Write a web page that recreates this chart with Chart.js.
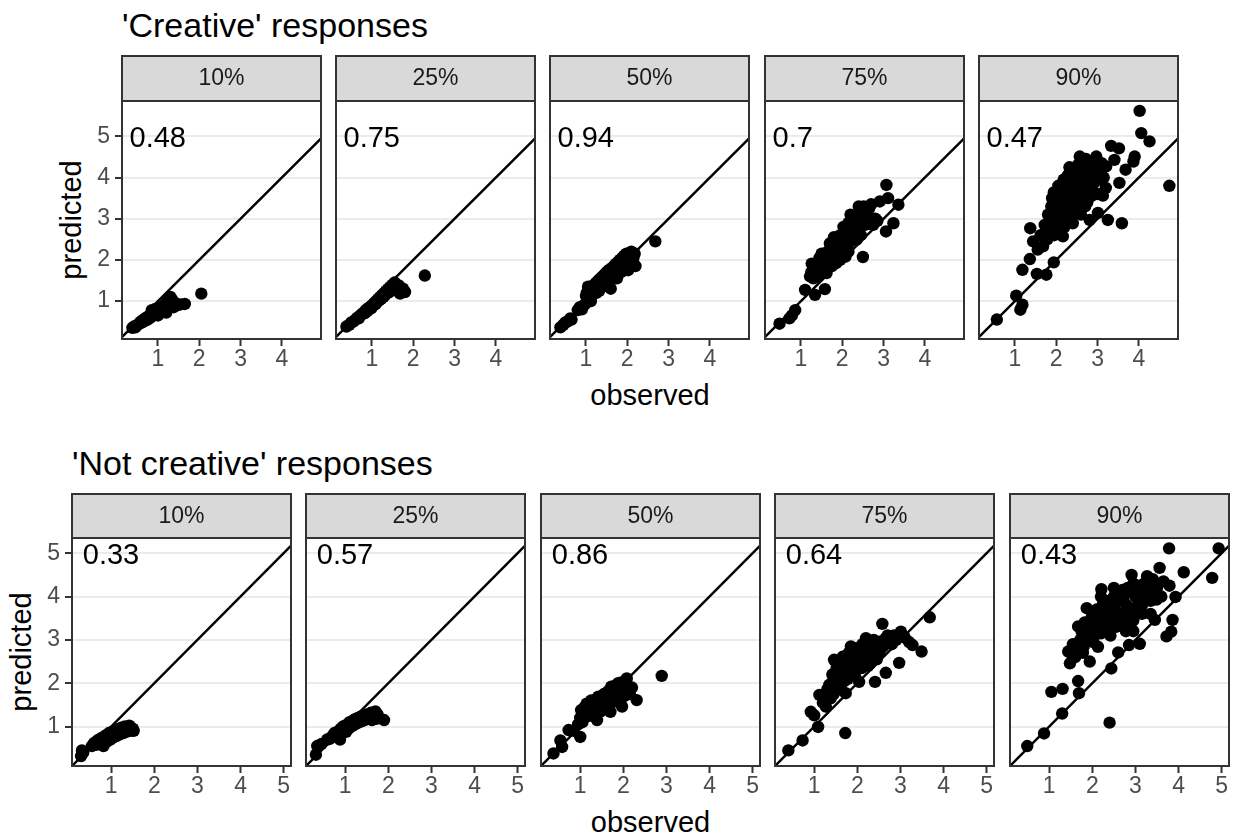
<!DOCTYPE html>
<html>
<head>
<meta charset="utf-8">
<script src="https://cdn.jsdelivr.net/npm/chart.js@4.4.0/dist/chart.umd.min.js"></script>
<style>
  html, body { margin: 0; padding: 0; background: #fff; }
  body { width: 1233px; height: 836px; position: relative; overflow: hidden;
         font-family: 'Liberation Sans', Arial, Helvetica, sans-serif; }
  canvas { position: absolute; }
  .txt { position: absolute; white-space: nowrap; color: #000; line-height: 1; }
</style>
</head>
<body>
<script>
// facet labels and correlation per facet
const quantiles = ['10%', '25%', '50%', '75%', '90%'];
const creativeR = [0.48, 0.75, 0.94, 0.7, 0.47];
const notCreativeR = [0.33, 0.57, 0.86, 0.64, 0.43];

// tick labels
const yTicks = [1, 2, 3, 4, 5];
const xTicksCreative = [1, 2, 3, 4];
const xTicksNotCreative = [1, 2, 3, 4, 5];

// reference line y = x
const identityLine = [0, 6];

// [observed, predicted] - 'Creative' responses
const creative10 = [[0.38,0.35],[0.42,0.38],[0.45,0.36],[0.5,0.42],[0.55,0.45],[0.58,0.5],[0.62,0.48],[0.65,0.55],[0.68,0.52],[0.7,0.58],
  [0.72,0.6],[0.75,0.55],[0.78,0.62],[0.8,0.66],[0.82,0.6],[0.85,0.7],[0.88,0.65],[0.9,0.72],[0.92,0.68],[0.95,0.75],
  [0.97,0.7],[1.0,0.78],[1.02,0.72],[1.05,0.82],[1.08,0.75],[1.1,0.85],[1.12,0.8],[1.15,0.9],[1.18,0.78],[1.2,0.95],
  [1.22,0.88],[1.25,1.05],[1.28,0.92],[1.3,1.1],[1.32,0.98],[1.35,1.02],[1.38,0.85],[1.42,0.95],[1.48,0.9],[1.55,0.92],
  [1.65,0.93],[1.0,0.65],[0.92,0.8],[0.85,0.78],[1.2,0.72],[2.05,1.18]];
const creative25 = [[0.38,0.38],[0.45,0.42],[0.5,0.48],[0.55,0.5],[0.6,0.55],[0.65,0.6],[0.68,0.58],[0.72,0.65],[0.75,0.68],[0.8,0.72],
  [0.82,0.7],[0.85,0.78],[0.88,0.75],[0.9,0.82],[0.95,0.85],[0.98,0.82],[1.0,0.9],[1.02,0.88],[1.05,0.95],[1.08,0.92],
  [1.1,1.0],[1.12,0.97],[1.15,1.05],[1.18,1.02],[1.2,1.1],[1.22,1.05],[1.25,1.15],[1.28,1.1],[1.3,1.2],[1.32,1.15],
  [1.35,1.25],[1.38,1.2],[1.4,1.3],[1.42,1.22],[1.45,1.35],[1.48,1.28],[1.5,1.4],[1.55,1.45],[1.58,1.35],[1.6,1.3],
  [1.65,1.38],[1.7,1.25],[1.75,1.3],[1.8,1.22],[1.68,1.18],[2.28,1.62]];
const creative50 = [[0.38,0.36],[0.45,0.42],[0.5,0.48],[0.55,0.5],[0.62,0.58],[0.65,0.55],[0.8,0.78],[0.85,0.85],[0.9,0.8],[0.95,0.9],
  [1.0,0.95],[1.0,1.12],[1.02,1.2],[1.05,1.05],[1.08,1.28],[1.1,1.15],[1.12,1.0],[1.15,1.35],[1.18,1.22],[1.2,1.4],
  [1.22,1.3],[1.25,1.45],[1.28,1.35],[1.3,1.5],[1.32,1.25],[1.35,1.55],[1.38,1.45],[1.4,1.6],[1.42,1.4],[1.45,1.65],
  [1.48,1.55],[1.5,1.7],[1.52,1.48],[1.55,1.75],[1.58,1.6],[1.6,1.3],[1.62,1.8],[1.65,1.7],[1.68,1.85],[1.7,1.65],
  [1.72,1.9],[1.75,1.55],[1.78,1.95],[1.8,1.8],[1.82,2.0],[1.85,1.7],[1.88,2.05],[1.9,1.9],[1.92,2.1],[1.95,1.85],
  [1.98,2.15],[2.0,2.0],[2.02,1.75],[2.05,2.15],[2.08,1.95],[2.1,2.2],[2.12,2.05],[2.15,1.9],[2.18,2.15],[2.2,1.85],
  [1.05,1.35],[1.15,1.2],[1.25,1.3],[1.35,1.4],[1.45,1.45],[1.55,1.55],[1.65,1.55],[1.75,1.75],[1.85,1.85],[1.95,1.95],
  [2.05,1.85],[2.15,2.05],[1.25,1.2],[1.4,1.35],[2.68,2.45]];
const creative75 = [[0.48,0.45],[0.72,0.58],[0.78,0.65],[0.86,0.78],[1.1,1.27],[1.34,1.15],[1.58,1.29],[1.22,1.6],[1.26,1.91],[1.3,1.75],
  [1.35,1.65],[1.4,1.85],[1.45,2.05],[1.48,1.7],[1.5,1.95],[1.55,1.8],[1.58,2.1],[1.62,1.68],[1.62,2.0],[1.65,2.2],
  [1.7,1.9],[1.72,2.3],[1.75,2.05],[1.78,2.45],[1.8,2.15],[1.85,1.92],[1.85,2.35],[1.9,2.5],[1.92,2.2],[1.95,2.6],
  [2.0,2.35],[2.03,2.8],[2.05,2.5],[2.08,2.08],[2.1,2.7],[2.12,2.3],[2.15,2.9],[2.18,2.55],[2.2,2.75],[2.25,3.0],
  [2.27,2.65],[2.3,2.85],[2.35,2.49],[2.38,3.1],[2.42,2.95],[2.45,3.2],[2.5,2.07],[2.52,3.3],[2.55,3.05],[2.6,3.15],
  [2.65,3.25],[2.71,2.97],[2.8,3.0],[2.91,3.42],[3.06,2.69],[3.07,3.82],[3.11,3.5],[3.24,2.89],[3.36,3.34],
  [1.25,1.7],[1.3,1.55],[1.4,1.6],[1.45,1.8],[1.5,2.15],[1.55,1.95],[1.6,1.75],[1.65,2.05],[1.7,2.4],[1.75,1.85],
  [1.8,2.55],[1.85,2.1],[1.9,2.3],[1.95,2.0],[2.0,2.6],[2.05,2.25],[2.1,2.5],[2.15,2.2],[2.2,2.45],[2.25,2.8],
  [2.3,2.6],[2.35,2.95],[2.4,2.75],[2.45,2.6],[2.5,3.05],[2.55,2.85],[2.6,2.9],[2.4,3.3],[2.2,3.1],[2.7,3.35],
  [2.75,2.85],[2.85,2.95]];
const creative90 = [[0.56,0.55],[1.03,1.13],[1.13,0.79],[1.18,0.91],[1.18,1.76],[1.36,2.02],[1.53,1.66],[1.76,1.64],[1.94,1.94],[1.37,2.77],
  [1.44,2.45],[1.55,2.25],[1.62,2.6],[1.68,2.33],[1.72,2.85],[1.78,2.5],[1.8,3.1],[1.85,2.7],[1.88,3.3],[1.92,2.73],
  [1.94,3.64],[1.96,3.0],[2.0,3.3],[2.02,2.85],[2.05,3.5],[2.08,3.15],[2.1,3.75],[2.12,2.95],[2.15,3.4],[2.16,2.57],
  [2.2,3.6],[2.22,3.9],[2.25,3.2],[2.28,4.05],[2.3,3.5],[2.32,3.7],[2.35,3.0],[2.38,3.85],[2.4,4.19],[2.4,2.89],
  [2.42,3.35],[2.45,4.0],[2.48,3.6],[2.5,3.2],[2.52,4.3],[2.55,3.8],[2.57,4.51],[2.6,3.45],[2.62,4.1],[2.65,3.7],
  [2.68,4.35],[2.7,3.3],[2.73,3.54],[2.75,4.0],[2.78,4.2],[2.81,2.97],[2.85,3.75],[2.89,3.94],[2.92,4.4],[2.97,4.51],
  [3.01,3.14],[3.05,4.1],[3.13,3.56],[3.21,4.27],[3.25,2.97],[3.33,4.77],[3.41,4.43],[3.52,4.71],[3.53,3.87],[3.59,2.89],
  [3.68,4.19],[3.87,4.39],[3.9,4.51],[4.02,5.62],[4.06,5.08],[4.26,4.88],[4.74,3.8],
  [1.85,2.9],[1.9,3.5],[1.95,2.6],[2.0,3.05],[2.05,3.8],[2.1,2.7],[2.15,3.15],[2.18,3.95],[2.2,2.8],[2.25,3.45],
  [2.28,3.75],[2.32,4.25],[2.35,3.3],[2.4,3.65],[2.45,3.15],[2.48,4.15],[2.5,3.9],[2.55,3.55],[2.58,4.0],[2.6,3.1],
  [2.62,3.85],[2.65,4.25],[2.7,3.6],[2.72,4.45],[2.75,3.4],[2.78,3.85],[2.8,4.15],[2.85,3.55],[2.88,4.3],[2.9,3.85],
  [2.95,4.1],[3.0,3.6],[3.05,3.95],[3.1,4.35],[3.15,4.0],[3.2,3.75],[2.3,3.95],[2.1,3.3],[1.95,3.2],[2.05,2.7]];

// [observed, predicted] - 'Not creative' responses
const notCreative10 = [[0.3,0.32],[0.32,0.45],[0.35,0.4],[0.55,0.55],[0.6,0.62],[0.65,0.58],[0.68,0.68],[0.72,0.62],[0.75,0.72],[0.78,0.65],
  [0.8,0.75],[0.82,0.55],[0.85,0.7],[0.88,0.8],[0.9,0.65],[0.92,0.75],[0.95,0.85],[0.98,0.7],[1.0,0.8],[1.02,0.88],
  [1.05,0.75],[1.08,0.85],[1.1,0.9],[1.12,0.78],[1.15,0.88],[1.18,0.95],[1.2,0.82],[1.22,0.9],[1.25,0.98],[1.28,0.85],
  [1.3,0.92],[1.32,1.0],[1.35,0.88],[1.38,0.95],[1.42,1.02],[1.45,0.9],[1.5,0.95],[1.52,0.9]];
const notCreative25 = [[0.32,0.35],[0.35,0.55],[0.45,0.6],[0.58,0.7],[0.65,0.72],[0.7,0.78],[0.75,0.85],[0.8,0.8],[0.85,0.9],[0.88,0.7],
  [0.9,0.95],[0.92,0.85],[0.95,1.0],[0.98,0.9],[1.0,1.02],[1.02,0.88],[1.05,1.05],[1.08,0.95],[1.1,1.1],[1.12,1.0],
  [1.15,1.12],[1.18,1.02],[1.2,1.15],[1.22,1.05],[1.25,1.18],[1.28,1.08],[1.3,1.2],[1.32,1.1],[1.35,1.22],[1.38,1.12],
  [1.4,1.25],[1.45,1.15],[1.5,1.28],[1.55,1.2],[1.6,1.32],[1.62,1.15],[1.65,1.25],[1.7,1.35],[1.75,1.28],[1.72,1.18],
  [1.9,1.15]];
const notCreative50 = [[0.38,0.38],[0.54,0.68],[0.58,0.53],[0.73,0.92],[0.85,0.9],[0.95,1.05],[1.0,0.76],[1.0,1.2],[1.02,1.38],[1.05,1.1],
  [1.08,1.3],[1.1,1.45],[1.12,1.22],[1.15,1.53],[1.18,1.35],[1.2,1.5],[1.22,1.25],[1.25,1.6],[1.28,1.4],[1.3,1.55],
  [1.32,1.3],[1.35,1.62],[1.38,1.45],[1.39,1.15],[1.42,1.69],[1.45,1.5],[1.48,1.35],[1.5,1.65],[1.52,1.55],[1.55,1.75],
  [1.58,1.45],[1.6,1.7],[1.62,1.6],[1.65,1.82],[1.68,1.5],[1.7,1.34],[1.72,1.92],[1.75,1.7],[1.78,1.85],[1.8,1.6],
  [1.82,1.95],[1.85,1.75],[1.88,2.0],[1.9,1.55],[1.92,1.85],[1.95,2.02],[1.97,1.46],[2.0,1.9],[2.02,1.7],[2.05,2.05],
  [2.08,2.11],[2.1,1.85],[2.15,1.75],[2.2,1.9],[2.31,1.61],
  [1.1,1.3],[1.2,1.35],[1.3,1.45],[1.4,1.55],[1.5,1.45],[1.6,1.55],[1.7,1.6],[1.8,1.7],[1.9,1.75],[2.0,1.8],
  [2.05,1.95],[1.55,1.6],[1.65,1.65],[1.75,1.8],[2.89,2.17]];
const notCreative75 = [[0.4,0.45],[0.73,0.68],[0.92,1.34],[1.0,1.26],[1.09,0.99],[1.12,1.73],[1.2,1.55],[1.27,1.46],[1.3,1.85],[1.35,1.96],
  [1.38,1.65],[1.42,2.2],[1.46,2.54],[1.5,1.9],[1.52,2.35],[1.55,2.1],[1.6,2.45],[1.62,1.85],[1.66,2.61],[1.68,2.25],
  [1.72,0.85],[1.73,1.77],[1.75,2.5],[1.78,2.1],[1.8,2.7],[1.85,2.3],[1.89,2.38],[1.9,2.6],[1.95,2.15],[1.97,2.81],
  [2.0,2.45],[2.04,2.03],[2.05,2.7],[2.1,2.35],[2.12,2.9],[2.15,2.55],[2.2,3.04],[2.22,2.7],[2.25,2.4],[2.3,2.85],
  [2.35,2.61],[2.38,3.0],[2.41,2.03],[2.45,2.75],[2.5,2.95],[2.55,2.8],[2.58,3.37],[2.62,3.0],[2.66,2.24],[2.66,3.04],
  [2.75,2.95],[2.85,3.1],[2.97,2.47],[3.01,3.19],[3.1,3.05],[3.2,2.95],[3.28,2.88],[3.49,2.73],[3.68,3.52],
  [1.3,1.7],[1.4,2.0],[1.45,1.75],[1.55,2.3],[1.6,2.0],[1.65,2.4],[1.7,2.05],[1.75,2.25],[1.8,2.45],[1.85,2.6],
  [1.9,2.2],[1.95,2.5],[2.0,2.7],[2.05,2.35],[2.1,2.6],[2.15,2.8],[2.2,2.5],[2.25,2.65],[2.3,2.45],[2.35,2.8],
  [2.4,2.9],[2.45,2.55],[2.5,2.7],[2.6,2.85],[2.7,3.1],[2.8,2.9],[2.9,3.0],[1.35,1.8],[1.5,2.5],[1.85,2.85]];
const notCreative90 = [[0.49,0.55],[0.88,0.84],[1.05,1.8],[1.3,1.3],[1.31,1.87],[1.44,2.73],[1.48,2.46],[1.55,2.9],[1.6,2.6],[1.67,2.05],
  [1.67,3.31],[1.69,1.77],[1.72,3.0],[1.78,2.7],[1.82,3.4],[1.87,3.73],[1.9,3.1],[1.94,2.5],[1.98,3.5],[2.02,2.95],
  [2.05,3.3],[2.1,3.7],[2.13,2.84],[2.15,3.45],[2.2,3.15],[2.21,4.17],[2.25,3.6],[2.3,3.3],[2.33,3.65],[2.38,3.9],
  [2.4,1.09],[2.42,3.1],[2.44,2.34],[2.48,3.55],[2.52,3.8],[2.55,3.3],[2.6,2.71],[2.62,4.05],[2.65,3.6],[2.68,3.42],
  [2.72,3.9],[2.78,3.2],[2.82,4.2],[2.85,2.88],[2.88,3.7],[2.91,4.5],[2.95,3.45],[3.0,4.0],[3.06,3.81],[3.1,2.91],
  [3.15,3.6],[3.22,4.08],[3.27,4.47],[3.35,3.9],[3.41,4.16],[3.45,3.46],[3.49,3.93],[3.56,4.66],[3.65,4.35],[3.72,3.08],
  [3.78,5.11],[3.79,4.25],[3.83,3.19],[3.86,3.46],[3.93,3.99],[4.12,4.56],[4.78,4.43],[4.93,5.11],
  [1.55,2.6],[1.62,2.85],[1.75,3.2],[1.8,2.85],[1.85,3.2],[1.92,3.4],[2.0,3.6],[2.05,3.1],[2.12,3.55],[2.18,3.35],
  [2.25,3.85],[2.3,3.5],[2.35,3.2],[2.4,3.75],[2.45,3.45],[2.5,4.0],[2.55,3.65],[2.6,3.9],[2.65,3.35],[2.7,4.15],
  [2.75,3.55],[2.8,3.8],[2.85,4.1],[2.9,3.4],[2.95,4.3],[3.0,3.7],[3.05,4.25],[3.1,3.95],[3.15,3.8],[3.2,4.3],
  [3.3,4.0],[3.4,4.4],[3.5,4.2],[3.6,4.0],[2.2,4.0],[2.5,4.2],[3.35,3.6],[2.95,3.2]];

const FONT = "'Liberation Sans', Arial, Helvetica, sans-serif";
const L = 50, R = 12, B = 50;   // room for axes around each panel

// one entry per plot row (two ggplots stacked)
const rows = [
  {
    title: "'Creative' responses", titleTop: 8, obsTop: 381, predX: 71,
    stripTop: 55, stripH: 46, panelW: 199, panelH: 238,
    lefts: [122, 336, 550, 765, 979],
    xMin: 0.128, xMax: 4.95, yMin: 0.078, yMax: 5.86, labelX: 0.31,
    xTicks: xTicksCreative, r: creativeR,
    sets: [creative10, creative25, creative50, creative75, creative90]
  },
  {
    title: "'Not creative' responses", titleTop: 446, obsTop: 808, predX: 21,
    stripTop: 493, stripH: 45, panelW: 219, panelH: 228,
    lefts: [72, 306, 541, 775, 1010],
    xMin: 0.09, xMax: 5.17, yMin: 0.09, yMax: 5.35, labelX: 0.34,
    xTicks: xTicksNotCreative, r: notCreativeR,
    sets: [notCreative10, notCreative25, notCreative50, notCreative75, notCreative90]
  }
];

// strip, panel border and the r label
const facetPlugin = {
  id: 'facet',
  afterDraw(chart, args, opts) {
    const { ctx, chartArea: a, scales } = chart;
    const w = a.right - a.left;
    ctx.save();
    ctx.fillStyle = '#D9D9D9';
    ctx.fillRect(a.left, a.top - opts.stripH, w, opts.stripH);
    ctx.strokeStyle = '#333333';
    ctx.lineWidth = 2;
    ctx.strokeRect(a.left, a.top - opts.stripH + 1, w, opts.stripH - 1);
    ctx.strokeRect(a.left, a.top, w, a.bottom - a.top);

    ctx.fillStyle = '#1A1A1A';
    ctx.font = '23px ' + FONT;
    ctx.textAlign = 'center';
    ctx.textBaseline = 'middle';
    ctx.fillText(opts.strip, (a.left + a.right) / 2, a.top - opts.stripH / 2 + 1);

    ctx.fillStyle = '#000';
    ctx.font = '29px ' + FONT;
    ctx.textAlign = 'left';
    ctx.textBaseline = 'alphabetic';
    ctx.fillText(String(opts.label), scales.x.getPixelForValue(opts.labelX), scales.y.getPixelForValue(5) + 10.4);
    ctx.restore();
  }
};

function addText(text, css) {
  const d = document.createElement('div');
  d.className = 'txt';
  d.textContent = text;
  Object.assign(d.style, css);
  document.body.appendChild(d);
}

rows.forEach(row => {
  addText(row.title, { left: row.lefts[0] + 'px', top: row.titleTop + 'px', fontSize: '34px' });
  const midX = (row.lefts[0] + row.lefts[4] + row.panelW) / 2;
  addText('observed', { left: midX + 'px', top: row.obsTop + 'px', fontSize: '29px', transform: 'translateX(-50%)' });
  const midY = row.stripTop + row.stripH + row.panelH / 2;
  addText('predicted', { left: row.predX + 'px', top: midY + 'px', fontSize: '29px',
    transform: 'translate(-50%, -50%) rotate(-90deg)' });

  row.sets.forEach((pts, i) => {
    const first = i === 0;
    const canvas = document.createElement('canvas');
    canvas.width = L + row.panelW + R;
    canvas.height = row.stripH + row.panelH + B;
    canvas.style.left = (row.lefts[i] - L) + 'px';
    canvas.style.top = row.stripTop + 'px';
    document.body.appendChild(canvas);

    new Chart(canvas, {
      type: 'scatter',
      data: {
        datasets: [
          {
            data: identityLine.map(v => ({ x: v, y: v })),
            showLine: true, borderColor: '#000', borderWidth: 2.4, pointRadius: 0
          },
          {
            data: pts.map(p => ({ x: p[0], y: p[1] })),
            backgroundColor: '#000', borderWidth: 0, pointRadius: 6.2
          }
        ]
      },
      options: {
        responsive: false,
        animation: false,
        events: [],
        layout: { padding: { top: row.stripH, right: R, left: 0, bottom: 0 } },
        plugins: {
          legend: { display: false },
          tooltip: { enabled: false },
          facet: { strip: quantiles[i], stripH: row.stripH, label: row.r[i], labelX: row.labelX }
        },
        scales: {
          x: {
            type: 'linear', min: row.xMin, max: row.xMax,
            afterBuildTicks: s => { s.ticks = row.xTicks.map(v => ({ value: v })); },
            afterFit: s => { s.height = B; s.paddingLeft = 0; s.paddingRight = 0; },
            border: { display: false },
            grid: { drawOnChartArea: false, tickLength: 7, tickColor: '#333333', tickWidth: 2 },
            ticks: { color: '#4D4D4D', font: { family: FONT, size: 23 }, padding: 0,
                     maxRotation: 0, autoSkip: false, callback: v => String(v) }
          },
          y: {
            type: 'linear', min: row.yMin, max: row.yMax,
            afterBuildTicks: s => { s.ticks = yTicks.map(v => ({ value: v })); },
            afterFit: s => { s.width = L; s.paddingTop = 0; s.paddingBottom = 0; },
            border: { display: false },
            grid: { color: '#EBEBEB', lineWidth: 2, drawTicks: first, tickLength: 7,
                    tickColor: '#333333', tickWidth: 2 },
            ticks: { display: first, color: '#4D4D4D', font: { family: FONT, size: 23 }, padding: 5,
                     autoSkip: false, callback: v => String(v) }
          }
        }
      },
      plugins: [facetPlugin]
    });
  });
});
</script>
</body>
</html>
